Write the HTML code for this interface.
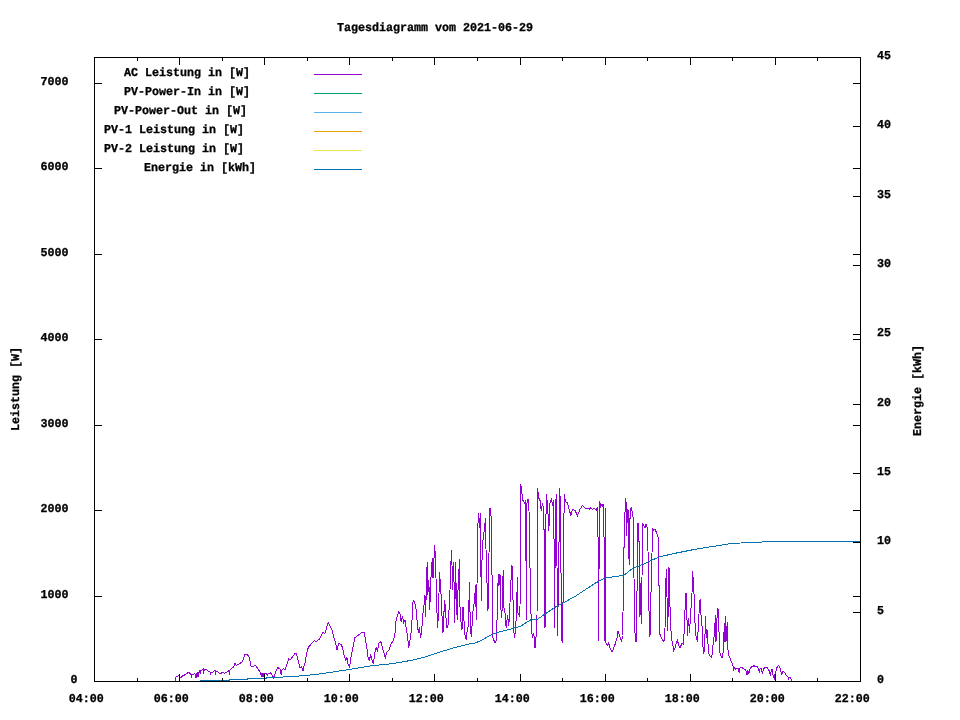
<!DOCTYPE html>
<html lang="de"><head><meta charset="utf-8"><title>Tagesdiagramm vom 2021-06-29</title>
<style>
html,body{margin:0;padding:0;background:#fff;}
body{width:960px;height:720px;overflow:hidden;}
svg{display:block;}
.ax rect{fill:#000;shape-rendering:crispEdges;}
.lg rect{shape-rendering:crispEdges;}
.tx text{font-family:"Liberation Mono","DejaVu Sans Mono",monospace;font-weight:bold;font-size:12.0px;fill:#000;stroke:#000;stroke-width:0.3px;text-rendering:geometricPrecision;}
</style></head><body>
<svg width="960" height="720" viewBox="0 0 960 720">
<rect width="960" height="720" fill="#fff"/>
<g class="tx">
<text transform="translate(337,31) scale(0.9722,1)" text-anchor="start">Tagesdiagramm vom 2021-06-29</text>
<text transform="translate(77.5,683) scale(0.9722,1)" text-anchor="end">0</text>
<text transform="translate(68.5,598) scale(0.9722,1)" text-anchor="end">1000</text>
<text transform="translate(68.5,512) scale(0.9722,1)" text-anchor="end">2000</text>
<text transform="translate(68.5,427) scale(0.9722,1)" text-anchor="end">3000</text>
<text transform="translate(68.5,341) scale(0.9722,1)" text-anchor="end">4000</text>
<text transform="translate(68.5,256) scale(0.9722,1)" text-anchor="end">5000</text>
<text transform="translate(68.5,170) scale(0.9722,1)" text-anchor="end">6000</text>
<text transform="translate(68.5,85) scale(0.9722,1)" text-anchor="end">7000</text>
<text transform="translate(877,683) scale(0.9722,1)" text-anchor="start">0</text>
<text transform="translate(877,614) scale(0.9722,1)" text-anchor="start">5</text>
<text transform="translate(877,544) scale(0.9722,1)" text-anchor="start">10</text>
<text transform="translate(877,475) scale(0.9722,1)" text-anchor="start">15</text>
<text transform="translate(877,406) scale(0.9722,1)" text-anchor="start">20</text>
<text transform="translate(877,336) scale(0.9722,1)" text-anchor="start">25</text>
<text transform="translate(877,267) scale(0.9722,1)" text-anchor="start">30</text>
<text transform="translate(877,198) scale(0.9722,1)" text-anchor="start">35</text>
<text transform="translate(877,128) scale(0.9722,1)" text-anchor="start">40</text>
<text transform="translate(877,59) scale(0.9722,1)" text-anchor="start">45</text>
<text transform="translate(68.7,702) scale(0.9722,1)" text-anchor="start">04:00</text>
<text transform="translate(153.7,702) scale(0.9722,1)" text-anchor="start">06:00</text>
<text transform="translate(238.7,702) scale(0.9722,1)" text-anchor="start">08:00</text>
<text transform="translate(323.7,702) scale(0.9722,1)" text-anchor="start">10:00</text>
<text transform="translate(408.7,702) scale(0.9722,1)" text-anchor="start">12:00</text>
<text transform="translate(494.7,702) scale(0.9722,1)" text-anchor="start">14:00</text>
<text transform="translate(579.7,702) scale(0.9722,1)" text-anchor="start">16:00</text>
<text transform="translate(664.7,702) scale(0.9722,1)" text-anchor="start">18:00</text>
<text transform="translate(749.7,702) scale(0.9722,1)" text-anchor="start">20:00</text>
<text transform="translate(834.7,702) scale(0.9722,1)" text-anchor="start">22:00</text>
<text transform="translate(19,431) rotate(-90) scale(0.9722,1)" text-anchor="start">Leistung [W]</text>
<text transform="translate(921,436) rotate(-90) scale(0.9722,1)" text-anchor="start">Energie [kWh]</text>
<text transform="translate(124,76) scale(0.9722,1)" text-anchor="start">AC Leistung in [W]</text>
<text transform="translate(124,95) scale(0.9722,1)" text-anchor="start">PV-Power-In in [W]</text>
<text transform="translate(114,114) scale(0.9722,1)" text-anchor="start">PV-Power-Out in [W]</text>
<text transform="translate(104,133) scale(0.9722,1)" text-anchor="start">PV-1 Leistung in [W]</text>
<text transform="translate(104,152) scale(0.9722,1)" text-anchor="start">PV-2 Leistung in [W]</text>
<text transform="translate(144,171) scale(0.9722,1)" text-anchor="start">Energie in [kWh]</text>
</g>
<g class="lg">
<rect x="314" y="74" width="48" height="1" fill="#9400d3"/>
<rect x="314" y="93" width="48" height="1" fill="#009e73"/>
<rect x="314" y="112" width="48" height="1" fill="#56b4e9"/>
<rect x="314" y="131" width="48" height="1" fill="#e69f00"/>
<rect x="314" y="150" width="48" height="1" fill="#f0e442"/>
<rect x="314" y="169" width="48" height="1" fill="#0072b2"/>
</g>
<polyline points="175.2,680.8 175.5,677.4 177.3,676.4 178.9,675.6 179.9,677.4 180.9,677.4 182.0,676.4 183.0,675.8 185.6,674.3 187.2,673.2 188.5,672.2 189.8,673.5 190.8,673.8 191.4,678.4 191.9,674.8 193.4,674.3 195.0,673.8 196.0,678.1 196.6,674.3 197.3,672.2 198.1,677.1 198.6,672.7 199.5,671.1 200.2,673.8 200.7,670.6 201.8,670.1 203.3,669.1 203.5,674.3 204.2,669.6 205.9,669.3 207.5,670.6 209.1,671.7 210.1,672.2 210.6,675.3 211.1,672.2 212.7,672.5 214.3,670.8 215.0,670.6 215.5,675.3 215.8,671.1 217.4,671.7 219.0,672.9 220.5,673.5 222.1,672.7 223.1,672.2 224.7,673.5 226.2,672.2 227.8,671.7 228.9,670.6 229.4,675.3 229.7,670.6 231.5,668.5 233.5,667.3 235.1,663.3 236.1,665.4 238.2,664.6 241.9,662.1 243.4,659.2 244.5,655.5 245.2,654.2 246.6,654.2 247.6,655.0 249.2,657.1 250.2,662.3 251.2,666.5 253.3,666.2 255.9,665.4 256.5,667.0 257.5,668.0 259.1,670.6 260.6,672.7 261.5,677.4 261.9,673.2 263.2,677.4 263.8,672.7 264.3,674.3 265.3,673.2 266.4,673.8 267.4,675.0 268.4,673.2 269.5,673.8 270.8,672.8 272.5,675.8 273.3,679.2 274.2,675.8 275.8,671.7 278.0,667.5 280.0,669.2 281.3,675.0 282.0,670.0 283.7,668.3 285.0,670.0 286.7,665.0 288.7,658.7 290.0,660.3 292.5,656.7 295.3,653.3 296.7,654.2 298.3,661.7 300.0,667.5 301.7,666.7 303.0,671.3 303.8,666.7 305.0,663.3 306.7,653.3 308.3,647.5 311.7,643.3 314.7,640.5 315.8,641.7 319.2,639.2 320.0,638.3 322.5,632.5 325.0,633.3 327.5,624.2 328.7,623.0 330.8,627.5 332.5,630.8 333.7,637.5 335.3,641.7 337.0,650.0 338.7,643.3 340.8,644.2 342.5,647.5 344.2,655.8 345.8,660.0 347.0,657.5 348.0,664.2 349.5,667.0 350.8,658.3 352.5,650.0 355.0,637.5 357.5,635.8 361.7,632.5 364.2,632.5 365.3,638.3 366.7,646.7 368.0,656.7 369.2,660.0 370.8,655.0 372.0,660.0 373.3,664.2 374.7,653.3 376.3,647.5 377.5,650.8 378.7,643.3 380.8,641.7 382.5,648.3 385.3,657.5 386.7,652.5 389.2,650.0 390.8,644.2 393.3,640.8 395.0,633.3 395.0,625.0 396.7,618.3 398.7,611.7 400.0,614.2 401.2,621.7 402.5,615.8 403.7,622.5 405.0,620.0 406.3,628.3 407.5,636.7 408.8,647.5 410.3,638.3 411.7,628.3 412.5,606.7 413.3,599.7 415.0,604.2 416.3,610.0 417.5,626.7 418.3,632.5 419.5,627.5 420.5,638.3 421.7,630.0 423.0,613.3 424.2,603.3 425.0,595.0 425.5,616.7 426.3,590.0 427.2,561.7 427.8,595.0 428.8,580.0 429.7,610.0 430.5,590.0 431.3,570.0 432.3,558.3 433.0,578.3 433.8,561.7 434.7,544.7 435.3,556.7 436.0,578.3 436.7,606.7 437.7,627.5 438.7,606.7 439.5,571.7 440.3,583.3 441.3,598.3 442.2,620.0 443.0,632.5 443.8,615.0 444.7,600.0 445.8,615.0 446.7,628.3 448.0,625.0 449.0,610.0 450.0,590.0 451.0,561.7 451.7,549.7 452.5,590.0 453.3,561.7 454.2,586.7 454.7,623.3 455.5,561.7 456.3,595.0 457.2,620.0 458.0,590.0 458.8,573.3 459.5,559.2 460.0,606.7 461.0,621.7 462.0,630.0 463.0,606.7 463.8,618.3 465.0,635.0 466.3,640.0 467.2,630.0 468.3,625.8 469.5,581.7 470.3,628.3 471.3,636.7 472.2,623.3 473.3,606.7 474.5,601.7 475.5,585.0 476.3,620.0 477.0,585.0 477.5,540.0 478.0,523.0 478.8,513.0 479.5,528.0 480.5,513.0 481.2,600.5 482.0,560.5 483.0,540.5 484.5,528.0 485.5,518.0 486.2,560.5 487.0,583.0 488.0,610.5 489.0,553.0 490.0,508.0 491.0,515.5 491.8,565.5 492.5,598.0 493.0,638.0 495.0,643.0 496.2,640.5 497.5,608.0 498.2,574.2 499.0,585.5 500.0,574.2 500.8,608.0 501.8,618.0 503.2,570.5 504.0,608.0 505.0,613.0 506.2,628.0 507.5,615.5 508.8,625.5 510.0,603.0 510.8,583.0 512.0,565.5 512.8,588.0 513.5,628.0 514.5,638.0 515.8,628.0 516.8,598.0 517.5,576.8 518.0,613.0 519.2,615.5 520.0,608.0 520.8,484.2 521.8,493.0 523.0,500.5 524.5,503.0 525.5,500.5 526.5,620.0 527.0,503.0 528.0,499.2 529.0,510.5 529.5,563.0 530.5,573.0 531.2,628.0 532.5,638.0 533.8,633.0 535.0,648.0 536.2,635.5 537.0,618.0 537.5,488.0 538.8,498.0 540.0,500.5 541.2,510.5 542.5,503.0 543.8,510.5 544.5,573.0 545.0,628.0 545.5,573.0 546.2,494.2 547.5,503.0 548.8,530.5 550.0,503.0 551.2,499.2 552.5,504.2 553.8,500.5 554.5,628.0 555.5,510.5 556.2,494.2 557.0,565.5 557.5,635.5 558.8,565.5 559.5,488.0 560.5,503.0 561.5,640.5 562.5,641.8 563.5,565.5 564.2,494.2 565.5,501.8 567.5,503.0 569.5,510.5 570.8,515.5 572.5,509.2 575.0,510.5 577.5,515.5 580.0,509.2 582.5,505.5 585.0,508.0 587.5,508.0 590.0,509.2 590.5,507.5 592.5,509.2 594.5,508.5 596.2,510.5 597.5,506.8 598.2,548.0 598.5,640.5 599.0,570.5 599.5,501.0 600.8,506.8 602.0,504.2 603.0,506.8 603.8,504.2 604.2,565.5 604.5,628.0 605.0,640.5 605.5,508.0 605.8,578.0 606.0,643.0 607.5,645.5 608.8,643.0 610.0,648.0 612.0,651.8 613.8,648.0 615.5,643.0 617.0,638.0 618.0,631.0 619.0,634.2 620.5,638.0 621.5,641.8 622.5,635.5 623.2,603.0 624.2,535.5 625.0,513.0 625.5,498.0 626.2,503.0 626.8,535.5 627.2,510.5 628.0,509.2 628.8,553.0 629.2,565.0 629.8,528.0 630.2,510.5 631.2,508.0 632.5,513.0 633.2,518.0 634.0,578.0 635.0,633.0 636.0,641.8 636.8,638.0 637.2,553.0 637.8,523.0 638.8,525.5 639.5,578.0 640.0,616.8 640.5,583.0 641.2,624.2 642.0,578.0 642.5,523.0 643.8,525.5 645.0,528.0 646.0,524.2 647.0,526.8 647.8,538.0 648.5,583.0 649.5,637.0 650.5,633.0 651.2,578.0 652.0,553.0 652.5,528.0 653.8,530.5 655.0,529.2 656.2,531.8 657.5,535.5 658.5,538.0 659.0,585.5 659.5,633.0 661.2,638.0 663.0,640.5 664.0,641.8 665.0,628.0 665.5,603.0 666.2,569.2 666.8,583.0 667.5,630.5 668.2,613.0 669.0,566.8 669.5,590.5 670.5,623.0 671.5,638.0 672.5,643.0 673.8,650.5 675.0,648.0 676.2,643.0 677.5,640.5 678.8,645.5 680.0,648.0 682.0,643.0 683.2,644.2 684.5,628.0 685.2,603.0 686.0,593.0 686.8,613.0 687.5,635.5 688.5,618.0 689.5,633.0 691.0,608.0 692.0,593.0 692.8,571.0 693.5,590.5 694.2,595.5 695.0,623.0 696.2,638.0 697.5,640.5 698.8,618.0 699.5,603.0 700.2,599.2 700.5,599.2 701.0,615.0 701.7,618.3 702.5,636.7 703.3,653.3 704.3,651.7 705.0,635.0 705.5,615.8 706.0,628.3 706.3,638.3 707.0,630.0 707.7,640.0 708.7,653.3 710.0,655.8 711.7,657.5 712.5,651.7 713.3,641.7 714.7,631.7 715.3,615.0 716.0,641.7 716.7,628.3 717.3,608.7 718.3,609.7 719.0,631.7 719.7,651.7 720.8,655.8 722.0,658.3 723.0,653.3 723.7,641.7 724.3,623.3 725.0,641.7 725.3,616.2 726.0,641.7 726.7,631.7 727.3,621.7 727.7,645.0 728.3,655.0 730.0,658.3 731.7,662.5 733.0,665.8 733.7,670.8 734.3,667.5 735.3,669.2 736.7,668.3 738.3,668.7 739.2,673.3 739.7,668.3 740.8,667.0 742.5,668.0 744.2,669.2 745.8,670.0 747.0,675.0 747.7,670.0 748.7,674.2 749.7,669.2 750.8,667.5 752.5,666.3 754.2,665.8 755.8,666.7 757.5,667.0 758.7,669.2 759.3,673.3 760.0,669.2 761.3,668.3 762.5,673.7 763.3,669.2 765.0,667.5 766.7,667.0 768.3,669.2 769.7,671.7 770.3,676.3 771.0,671.7 772.0,669.2 772.8,673.3 773.3,677.0 774.2,675.0 775.0,680.0 775.8,671.7 777.0,667.5 778.3,665.3 779.7,666.7 780.8,671.7 781.7,674.2 782.7,671.7 783.7,671.3 785.0,673.3 786.7,675.8 788.0,676.7 788.7,680.0 789.3,677.0 790.5,678.0 791.3,680.0 792.0,680.8" fill="none" stroke="#9400d3" stroke-width="1" shape-rendering="crispEdges"/>
<polyline points="200.0,680.5 229.5,680.5 229.5,679.5 247.5,679.5 247.5,678.5 266.5,678.5 266.5,677.5 290.0,676.8 307.5,675.3 320.0,673.9 349.5,669.5 370.0,666.0 393.3,663.5 413.3,660.0 426.7,656.5 440.0,652.0 453.3,648.0 466.7,644.5 475.0,643.0 480.0,641.0 493.8,633.5 520.0,626.5 531.2,619.5 537.0,619.5 555.0,607.3 575.0,596.5 595.0,583.3 605.0,578.0 623.8,575.3 632.5,568.5 645.0,563.5 658.8,557.0 675.0,553.3 695.0,549.3 712.5,546.5 731.2,543.5 750.0,542.5 775.0,541.5 860.0,541.5" fill="none" stroke="#0072b2" stroke-width="1" shape-rendering="crispEdges"/>
<g class="ax">
<rect x="94" y="57" width="767" height="1"/>
<rect x="94" y="681" width="767" height="1"/>
<rect x="94" y="57" width="1" height="625"/>
<rect x="860" y="57" width="1" height="625"/>
<rect x="94" y="674" width="1" height="8"/>
<rect x="94" y="57" width="1" height="8"/>
<rect x="137" y="678" width="1" height="4"/>
<rect x="137" y="57" width="1" height="4"/>
<rect x="179" y="674" width="1" height="8"/>
<rect x="179" y="57" width="1" height="8"/>
<rect x="222" y="678" width="1" height="4"/>
<rect x="222" y="57" width="1" height="4"/>
<rect x="264" y="674" width="1" height="8"/>
<rect x="264" y="57" width="1" height="8"/>
<rect x="307" y="678" width="1" height="4"/>
<rect x="307" y="57" width="1" height="4"/>
<rect x="349" y="674" width="1" height="8"/>
<rect x="349" y="57" width="1" height="8"/>
<rect x="392" y="678" width="1" height="4"/>
<rect x="392" y="57" width="1" height="4"/>
<rect x="434" y="674" width="1" height="8"/>
<rect x="434" y="57" width="1" height="8"/>
<rect x="477" y="678" width="1" height="4"/>
<rect x="477" y="57" width="1" height="4"/>
<rect x="520" y="674" width="1" height="8"/>
<rect x="520" y="57" width="1" height="8"/>
<rect x="562" y="678" width="1" height="4"/>
<rect x="562" y="57" width="1" height="4"/>
<rect x="605" y="674" width="1" height="8"/>
<rect x="605" y="57" width="1" height="8"/>
<rect x="647" y="678" width="1" height="4"/>
<rect x="647" y="57" width="1" height="4"/>
<rect x="690" y="674" width="1" height="8"/>
<rect x="690" y="57" width="1" height="8"/>
<rect x="732" y="678" width="1" height="4"/>
<rect x="732" y="57" width="1" height="4"/>
<rect x="775" y="674" width="1" height="8"/>
<rect x="775" y="57" width="1" height="8"/>
<rect x="817" y="678" width="1" height="4"/>
<rect x="817" y="57" width="1" height="4"/>
<rect x="860" y="674" width="1" height="8"/>
<rect x="860" y="57" width="1" height="8"/>
<rect x="94" y="681" width="8" height="1"/>
<rect x="853" y="681" width="8" height="1"/>
<rect x="94" y="596" width="8" height="1"/>
<rect x="853" y="596" width="8" height="1"/>
<rect x="94" y="510" width="8" height="1"/>
<rect x="853" y="510" width="8" height="1"/>
<rect x="94" y="425" width="8" height="1"/>
<rect x="853" y="425" width="8" height="1"/>
<rect x="94" y="339" width="8" height="1"/>
<rect x="853" y="339" width="8" height="1"/>
<rect x="94" y="254" width="8" height="1"/>
<rect x="853" y="254" width="8" height="1"/>
<rect x="94" y="168" width="8" height="1"/>
<rect x="853" y="168" width="8" height="1"/>
<rect x="94" y="83" width="8" height="1"/>
<rect x="853" y="83" width="8" height="1"/>
<rect x="853" y="681" width="8" height="1"/>
<rect x="853" y="612" width="8" height="1"/>
<rect x="853" y="542" width="8" height="1"/>
<rect x="853" y="473" width="8" height="1"/>
<rect x="853" y="404" width="8" height="1"/>
<rect x="853" y="334" width="8" height="1"/>
<rect x="853" y="265" width="8" height="1"/>
<rect x="853" y="196" width="8" height="1"/>
<rect x="853" y="126" width="8" height="1"/>
<rect x="853" y="57" width="8" height="1"/>
</g>
</svg>
</body></html>
